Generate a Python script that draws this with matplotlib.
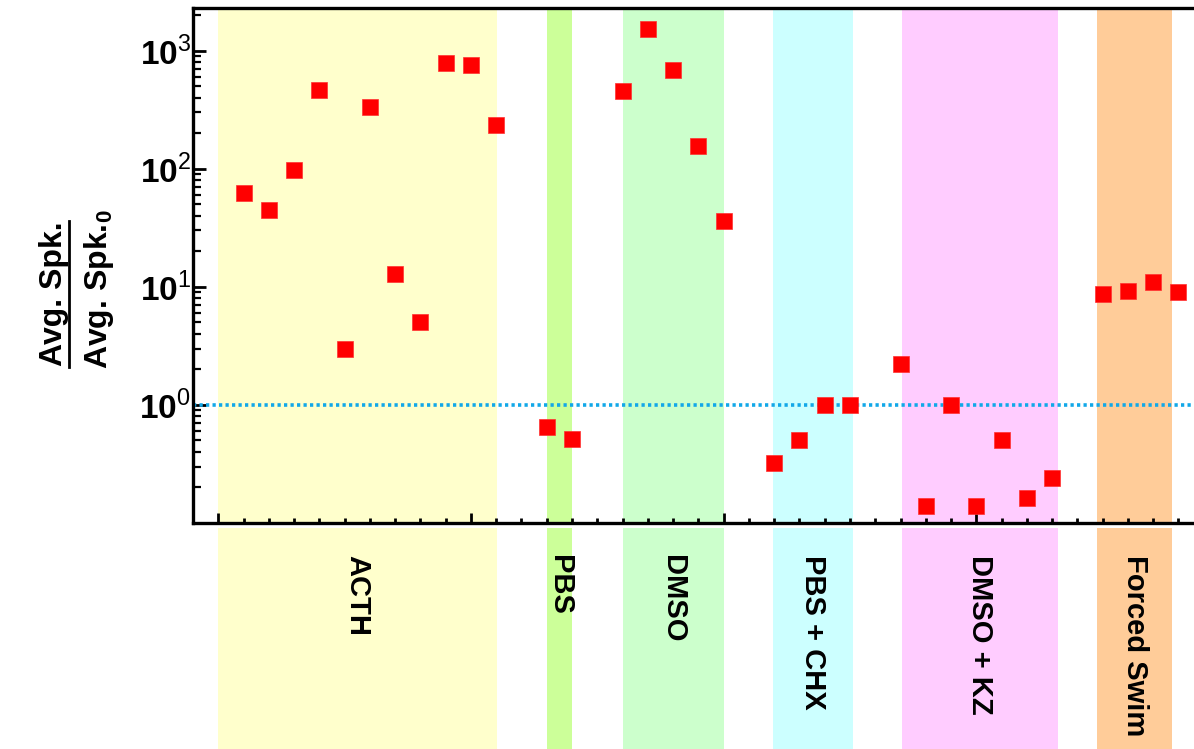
import math
import matplotlib
matplotlib.use("Agg")
import matplotlib.pyplot as plt
import matplotlib.ticker as ticker
import matplotlib.transforms as mtransforms
from matplotlib.lines import Line2D
from matplotlib.patches import Rectangle

plt.rcParams['font.family'] = ['Liberation Sans', 'DejaVu Sans']
plt.rcParams['mathtext.fontset'] = 'custom'
plt.rcParams['mathtext.rm'] = 'Liberation Sans'
plt.rcParams['mathtext.bf'] = 'Liberation Sans:bold'

# groups and the slots they cover
groups = ['ACTH', 'PBS', 'DMSO', 'PBS + CHX', 'DMSO + KZ', 'Forced Swim']
band_start = [0.0, 13.02, 16.0, 21.96, 27.07, 34.78]
band_end = [11.04, 14.0, 20.0, 25.13, 33.24, 37.75]
band_colors = ['#FFFFCC', '#CCFF99', '#CCFFCC', '#CCFFFF', '#FFCCFF', '#FFCC99']

# normalised average spike values per recording
acth_x = [1, 2, 3, 4, 5, 6, 7, 8, 9, 10, 11]
acth_y = [62, 45, 97, 460, 3.0, 330, 12.8, 5.0, 778, 748, 233]
pbs_x = [13, 14]
pbs_y = [0.65, 0.51]
dmso_x = [16, 17, 18, 19, 20]
dmso_y = [451, 1537, 679, 155, 36]
chx_x = [22, 23, 24, 25]
chx_y = [0.32, 0.50, 1.0, 1.0]
kz_x = [27, 28, 29, 30, 31, 32, 33]
kz_y = [2.22, 0.14, 1.0, 0.14, 0.50, 0.164, 0.24]
swim_x = [35, 36, 37, 38]
swim_y = [8.7, 9.2, 10.9, 9.0]

W, H = 1194, 749
fig = plt.figure(figsize=(W / 100, H / 100), dpi=100)
ax = fig.add_axes([193 / W, (H - 523) / H, (1229 - 193) / W, (523 - 8.5) / H])

ax.set_yscale('log')
ax.set_xlim(-1, 40)
ax.set_ylim(0.1, 2270)

# coloured bands, continued below the axis for the group labels
trans = mtransforms.blended_transform_factory(ax.transData, ax.transAxes)
for name, x0, x1, c in zip(groups, band_start, band_end, band_colors):
    ax.axvspan(x0, x1, color=c, lw=0, zorder=0)
    ax.add_patch(Rectangle((x0, -0.6), x1 - x0, 0.6 - 0.0097, transform=trans,
                           facecolor=c, lw=0, clip_on=False, zorder=0))
    ax.text((x0 + x1) / 2, -0.062, name, transform=trans, rotation=270,
            ha='center', va='top', fontsize=21, fontweight='bold', color='black')

ax.axhline(1.0, color='#12A8E8', lw=2.6, linestyle=(0, (0.9, 0.9)), zorder=2)

all_x = acth_x + pbs_x + dmso_x + chx_x + kz_x + swim_x
all_y = acth_y + pbs_y + dmso_y + chx_y + kz_y + swim_y
ax.plot(all_x, all_y, linestyle='none', marker='s', markersize=11,
        color='#FF0000', mec='#FF3030', mew=0.5, zorder=3, clip_on=False)

# axes styling
for side in ['left', 'top', 'bottom']:
    ax.spines[side].set_linewidth(2.4)
ax.spines['right'].set_visible(False)

ax.xaxis.set_major_locator(ticker.MultipleLocator(10))
ax.xaxis.set_minor_locator(ticker.MultipleLocator(1))
ax.xaxis.set_major_formatter(ticker.NullFormatter())
ax.tick_params(axis='x', which='major', direction='in', length=7, width=2)
ax.tick_params(axis='x', which='minor', direction='in', length=3.5, width=2)

ax.yaxis.set_major_locator(ticker.FixedLocator([1, 10, 100, 1000]))
ax.yaxis.set_minor_locator(ticker.LogLocator(base=10, subs=[2, 3, 4, 5, 6, 7, 8, 9], numticks=20))
ax.yaxis.set_minor_formatter(ticker.NullFormatter())
ax.yaxis.set_major_formatter(ticker.FuncFormatter(
    lambda v, p: r'$\mathbf{10}^{\mathrm{%d}}$' % round(math.log10(v))))
ax.tick_params(axis='y', which='major', direction='in', length=9, width=2, pad=1.5,
               labelsize=24)
ax.tick_params(axis='y', which='minor', direction='in', length=5.5, width=1.6)

# y label as a fraction
fig.text(54 / W, 1 - 294 / H, 'Avg. Spk.', rotation=90, ha='center', va='center',
         fontsize=23, fontweight='bold')
fig.add_artist(Line2D([69 / W, 69 / W], [1 - 221 / H, 1 - 367 / H], color='black', lw=2))
fig.text(99 / W, 1 - 289 / H, r'Avg. Spk.$_{\mathbf{0}}$', rotation=90, ha='center',
         va='center', fontsize=23, fontweight='bold')

fig.savefig('out.png', dpi=100)
